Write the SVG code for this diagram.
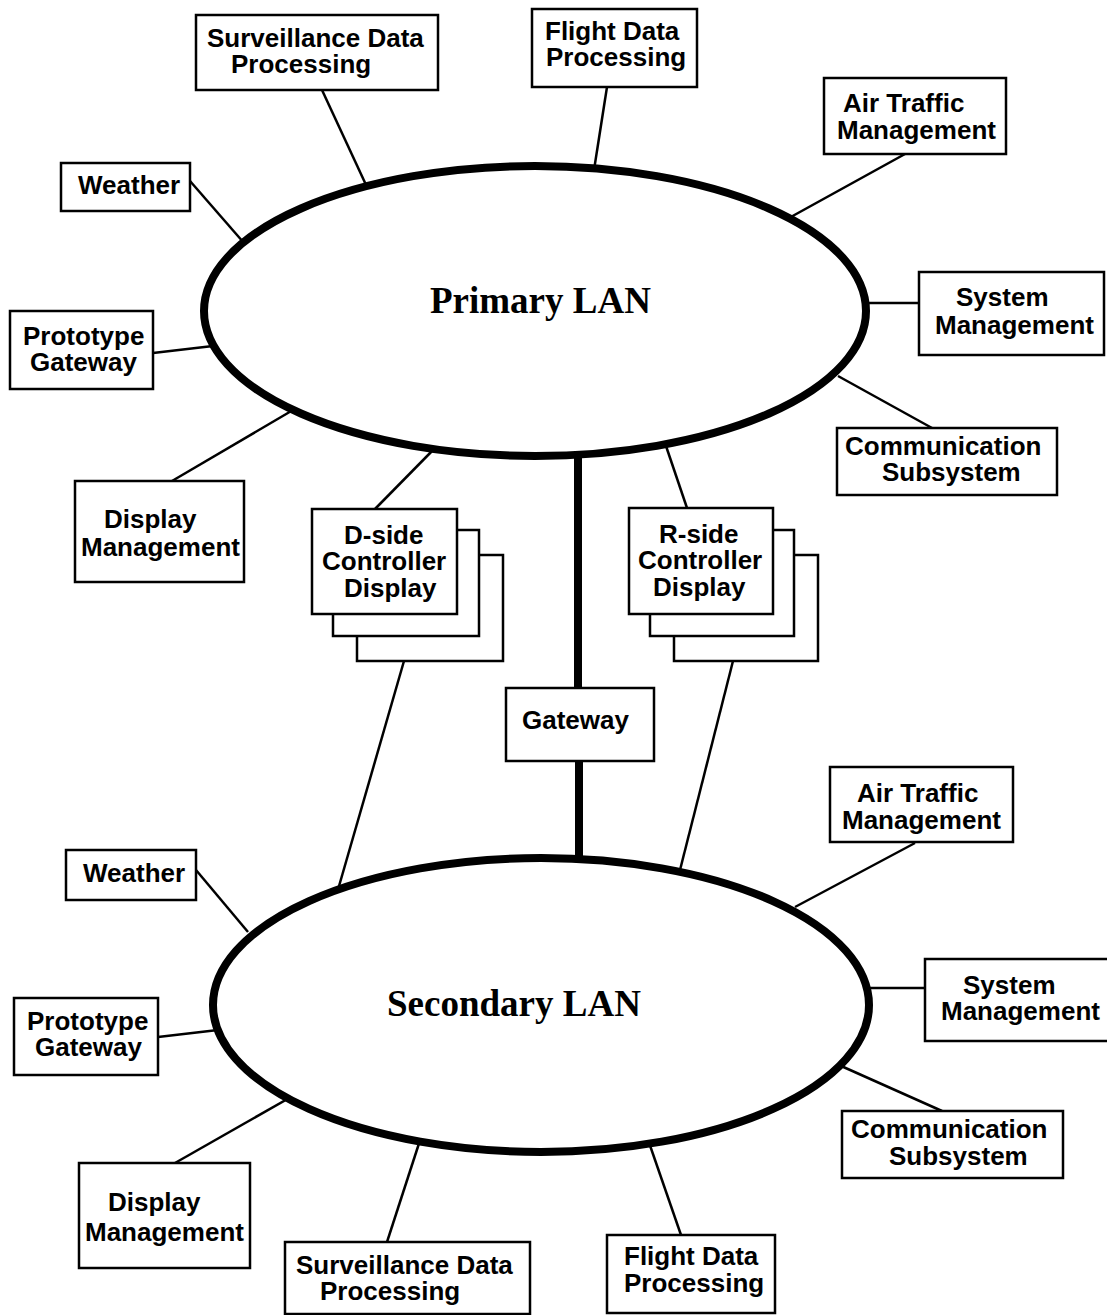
<svg xmlns="http://www.w3.org/2000/svg" width="1107" height="1315" viewBox="0 0 1107 1315">
  <style>
    .box { fill: #fff; stroke: #000; stroke-width: 2.5; }
    .lan { fill: #fff; stroke: #000; stroke-width: 8; }
    .link { stroke: #000; stroke-width: 2.5; fill: none; }
    .trunk { stroke: #000; stroke-width: 8; fill: none; }
    .lbl { font-family: "Liberation Sans", Arial, sans-serif; font-weight: bold; font-size: 26px; fill: #000; }
    .lanlbl { font-family: "Liberation Serif", "Times New Roman", serif; font-weight: bold; font-size: 37px; fill: #000; }
  </style>
  <rect width="1107" height="1315" fill="#fff"/>

  <!-- connectors -->
  <g id="connectors">
    <!-- primary LAN spokes -->
    <line class="link" x1="322" y1="90" x2="367" y2="187"/>
    <line class="link" x1="607" y1="87" x2="594" y2="170"/>
    <line class="link" x1="905" y1="154" x2="789" y2="218"/>
    <line class="link" x1="190" y1="181" x2="244" y2="243"/>
    <line class="link" x1="866" y1="303" x2="919" y2="303"/>
    <line class="link" x1="153" y1="353" x2="213" y2="346"/>
    <line class="link" x1="838" y1="376" x2="932" y2="428"/>
    <line class="link" x1="293" y1="410" x2="172" y2="481"/>
    <line class="link" x1="435" y1="448" x2="375" y2="509"/>
    <line class="link" x1="666" y1="446" x2="687" y2="508"/>
    <!-- controller displays down to secondary LAN -->
    <line class="link" x1="404" y1="661" x2="335" y2="900"/>
    <line class="link" x1="733" y1="661" x2="680" y2="870"/>
    <!-- gateway trunk -->
    <line class="trunk" x1="578" y1="455" x2="578" y2="688"/>
    <line class="trunk" x1="579" y1="761" x2="579" y2="870"/>
    <!-- secondary LAN spokes -->
    <line class="link" x1="196" y1="870" x2="248" y2="932"/>
    <line class="link" x1="915" y1="843" x2="795" y2="907"/>
    <line class="link" x1="869" y1="988" x2="925" y2="988"/>
    <line class="link" x1="158" y1="1037" x2="218" y2="1030"/>
    <line class="link" x1="821" y1="1057" x2="942" y2="1111"/>
    <line class="link" x1="298" y1="1093" x2="175" y2="1163"/>
    <line class="link" x1="424" y1="1128" x2="387" y2="1242"/>
    <line class="link" x1="645" y1="1131" x2="681" y2="1235"/>
  </g>

  <!-- LANs -->
  <g id="primary-lan">
    <ellipse class="lan" cx="535" cy="311" rx="331" ry="145"/>
    <text class="lanlbl" x="430" y="313">Primary LAN</text>
  </g>
  <g id="secondary-lan">
    <ellipse class="lan" cx="541" cy="1005" rx="328" ry="147"/>
    <text class="lanlbl" x="387" y="1016">Secondary LAN</text>
  </g>

  <!-- primary LAN nodes -->
  <g id="p-sdp">
    <rect class="box" x="196" y="15" width="242" height="75"/>
    <text class="lbl" x="207" y="47">Surveillance Data</text>
    <text class="lbl" x="231" y="73">Processing</text>
  </g>
  <g id="p-fdp">
    <rect class="box" x="532" y="9" width="165" height="78"/>
    <text class="lbl" x="545" y="40">Flight Data</text>
    <text class="lbl" x="546" y="66">Processing</text>
  </g>
  <g id="p-atm">
    <rect class="box" x="824" y="78" width="182" height="76"/>
    <text class="lbl" x="843" y="112">Air Traffic</text>
    <text class="lbl" x="837" y="139">Management</text>
  </g>
  <g id="p-weather">
    <rect class="box" x="61" y="163" width="129" height="48"/>
    <text class="lbl" x="78" y="194">Weather</text>
  </g>
  <g id="p-sysmgmt">
    <rect class="box" x="919" y="272" width="185" height="83"/>
    <text class="lbl" x="956" y="306">System</text>
    <text class="lbl" x="935" y="334">Management</text>
  </g>
  <g id="p-protogw">
    <rect class="box" x="10" y="311" width="143" height="78"/>
    <text class="lbl" x="23" y="345">Prototype</text>
    <text class="lbl" x="30" y="371">Gateway</text>
  </g>
  <g id="p-comm">
    <rect class="box" x="837" y="428" width="220" height="67"/>
    <text class="lbl" x="845" y="455">Communication</text>
    <text class="lbl" x="882" y="481">Subsystem</text>
  </g>
  <g id="p-dispmgmt">
    <rect class="box" x="75" y="481" width="169" height="101"/>
    <text class="lbl" x="104" y="528">Display</text>
    <text class="lbl" x="81" y="556">Management</text>
  </g>
  <g id="d-side">
    <rect class="box" x="357" y="555" width="146" height="106"/>
    <rect class="box" x="333" y="530" width="146" height="106"/>
    <rect class="box" x="312" y="509" width="145" height="105"/>
    <text class="lbl" x="344" y="544">D-side</text>
    <text class="lbl" x="322" y="570">Controller</text>
    <text class="lbl" x="344" y="597">Display</text>
  </g>
  <g id="r-side">
    <rect class="box" x="674" y="555" width="144" height="106"/>
    <rect class="box" x="650" y="530" width="144" height="106"/>
    <rect class="box" x="629" y="508" width="144" height="106"/>
    <text class="lbl" x="659" y="543">R-side</text>
    <text class="lbl" x="638" y="569">Controller</text>
    <text class="lbl" x="653" y="596">Display</text>
  </g>
  <g id="gateway">
    <rect class="box" x="506" y="688" width="148" height="73"/>
    <text class="lbl" x="522" y="729">Gateway</text>
  </g>

  <!-- secondary LAN nodes -->
  <g id="s-weather">
    <rect class="box" x="66" y="850" width="130" height="50"/>
    <text class="lbl" x="83" y="882">Weather</text>
  </g>
  <g id="s-atm">
    <rect class="box" x="830" y="767" width="183" height="75"/>
    <text class="lbl" x="857" y="802">Air Traffic</text>
    <text class="lbl" x="842" y="829">Management</text>
  </g>
  <g id="s-sysmgmt">
    <rect class="box" x="925" y="959" width="186" height="82"/>
    <text class="lbl" x="963" y="994">System</text>
    <text class="lbl" x="941" y="1020">Management</text>
  </g>
  <g id="s-protogw">
    <rect class="box" x="14" y="998" width="144" height="77"/>
    <text class="lbl" x="27" y="1030">Prototype</text>
    <text class="lbl" x="35" y="1056">Gateway</text>
  </g>
  <g id="s-comm">
    <rect class="box" x="842" y="1111" width="221" height="67"/>
    <text class="lbl" x="851" y="1138">Communication</text>
    <text class="lbl" x="889" y="1165">Subsystem</text>
  </g>
  <g id="s-dispmgmt">
    <rect class="box" x="79" y="1163" width="171" height="105"/>
    <text class="lbl" x="108" y="1211">Display</text>
    <text class="lbl" x="85" y="1241">Management</text>
  </g>
  <g id="s-sdp">
    <rect class="box" x="285" y="1242" width="245" height="72"/>
    <text class="lbl" x="296" y="1274">Surveillance Data</text>
    <text class="lbl" x="320" y="1300">Processing</text>
  </g>
  <g id="s-fdp">
    <rect class="box" x="607" y="1235" width="168" height="78"/>
    <text class="lbl" x="624" y="1265">Flight Data</text>
    <text class="lbl" x="624" y="1292">Processing</text>
  </g>
</svg>
